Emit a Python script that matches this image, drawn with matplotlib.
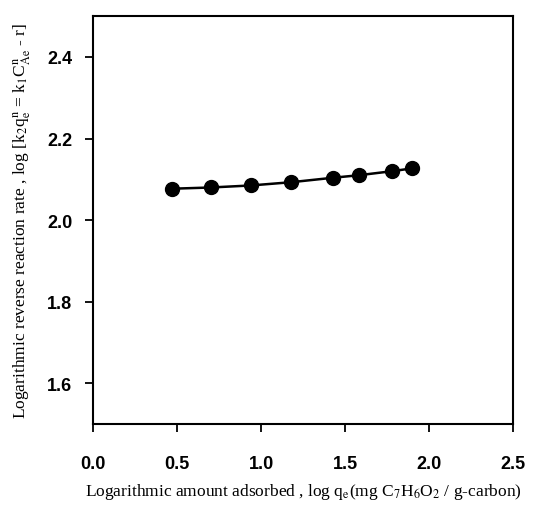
import numpy as np
import matplotlib.pyplot as plt

# Data
log_qe = [0.47, 0.70, 0.94, 1.18, 1.43, 1.58, 1.78, 1.90]
log_rate = [2.077, 2.080, 2.085, 2.093, 2.104, 2.110, 2.120, 2.127]

x_ticks = [0.0, 0.5, 1.0, 1.5, 2.0, 2.5]
y_ticks = [1.6, 1.8, 2.0, 2.2, 2.4]

plt.rcParams['mathtext.fontset'] = 'stix'

fig = plt.figure(figsize=(5.36, 5.06), dpi=100)
ax = fig.add_axes([0.1735, 0.160, 0.784, 0.806])

ax.plot(log_qe, log_rate, color="black", linewidth=1.8,
        marker="o", markersize=10, markerfacecolor="black")

ax.set_xlim(0, 2.5)
ax.set_ylim(1.5, 2.5)
ax.set_xticks(x_ticks)
ax.set_yticks(y_ticks)
ax.set_xticklabels([f"{v:.1f}" for v in x_ticks])
ax.set_yticklabels([f"{v:.1f}" for v in y_ticks])

for s in ax.spines.values():
    s.set_linewidth(1.5)
ax.tick_params(direction="out", length=6, width=1.3, top=False, right=False)
ax.tick_params(axis="x", pad=16)
ax.tick_params(axis="y", pad=9)
for lab in ax.get_xticklabels() + ax.get_yticklabels():
    lab.set_fontfamily("Liberation Sans")
    lab.set_fontweight("bold")
    lab.set_fontsize(13)

ax.set_xlabel(r"Logarithmic amount adsorbed , log q$_\mathrm{e}$(mg C$_7$H$_6$O$_2$ / g-carbon)",
              fontfamily="Liberation Serif", fontsize=12.5, labelpad=7)
ax.set_ylabel(r"Logarithmic reverse reaction rate , log [k$_2$q$_\mathrm{e}^\mathrm{n}$ = k$_1$C$_\mathrm{Ae}^\mathrm{n}$ - r]",
              fontfamily="Liberation Serif", fontsize=12.5, labelpad=10)

fig.savefig("out.png", dpi=100)
